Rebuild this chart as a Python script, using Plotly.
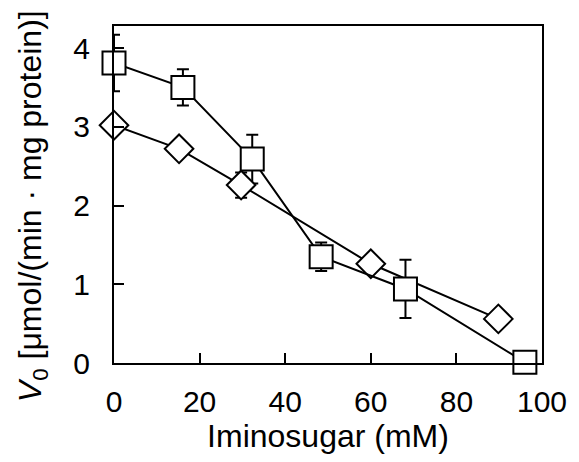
import plotly.graph_objects as go

# Square series
sq_x = [0, 16.1, 32.3, 48.4, 68.1, 96]
sq_y = [3.81, 3.50, 2.59, 1.35, 0.94, 0.01]
sq_err = [0.36, 0.23, 0.31, 0.18, 0.37, 0.0]

# Diamond series
di_x = [0, 15.2, 29.7, 60, 89.8]
di_y = [3.02, 2.72, 2.26, 1.26, 0.56]
di_err = [0.05, 0.05, 0.16, 0.05, 0.05]

x_ticks = [0, 20, 40, 60, 80, 100]
y_ticks = [0, 1, 2, 3, 4]

FONT = "Liberation Sans, Arial, sans-serif"
TICK_SIZE = 30
TITLE_SIZE = 32

fig = go.Figure()

# error bars (clipped to the plot area)
for xs, ys, errs in [(di_x, di_y, di_err), (sq_x, sq_y, sq_err)]:
    fig.add_trace(go.Scatter(
        x=xs, y=ys, mode="markers",
        marker=dict(size=1, color="rgba(0,0,0,0)"),
        error_y=dict(type="data", array=errs, visible=True,
                     color="black", thickness=2, width=6),
        cliponaxis=True, showlegend=False, hoverinfo="skip",
    ))

fig.add_trace(go.Scatter(
    x=di_x, y=di_y, mode="lines+markers",
    line=dict(color="black", width=2),
    marker=dict(symbol="diamond", size=22, color="white",
                line=dict(color="black", width=2)),
    cliponaxis=False, showlegend=False,
))
fig.add_trace(go.Scatter(
    x=sq_x, y=sq_y, mode="lines+markers",
    line=dict(color="black", width=2),
    marker=dict(symbol="square", size=23, color="white",
                line=dict(color="black", width=2)),
    cliponaxis=False, showlegend=False,
))

fig.update_layout(
    width=579, height=462,
    margin=dict(l=114, r=32, t=26, b=99),
    paper_bgcolor="white", plot_bgcolor="white",
    font=dict(family=FONT, size=TICK_SIZE, color="black"),
    annotations=[dict(
        text="<i>V</i><sub>0</sub> [μmol/(min · mg protein)]",
        xref="paper", yref="paper", x=-0.19, y=0.4645,
        xanchor="center", yanchor="middle", textangle=-90,
        showarrow=False, font=dict(size=TITLE_SIZE, family=FONT, color="black"),
    )],
)
fig.update_xaxes(
    range=[0, 100], tickvals=x_ticks, ticktext=[str(v) for v in x_ticks],
    showline=True, linecolor="black", linewidth=2, mirror=True,
    ticks="inside", ticklen=10, tickwidth=2, tickcolor="black",
    showgrid=False, zeroline=False,
    tickfont=dict(size=TICK_SIZE), ticklabelstandoff=11,
    title=dict(text="Iminosugar (mM)", font=dict(size=TITLE_SIZE), standoff=2),
)
fig.update_yaxes(
    range=[0, 4.28], tickvals=y_ticks, ticktext=[str(v) for v in y_ticks],
    showline=True, linecolor="black", linewidth=2, mirror=True,
    ticks="inside", ticklen=10, tickwidth=2, tickcolor="black",
    showgrid=False, zeroline=False,
    tickfont=dict(size=TICK_SIZE), ticklabelstandoff=16,
)

fig.write_html("out.html")
